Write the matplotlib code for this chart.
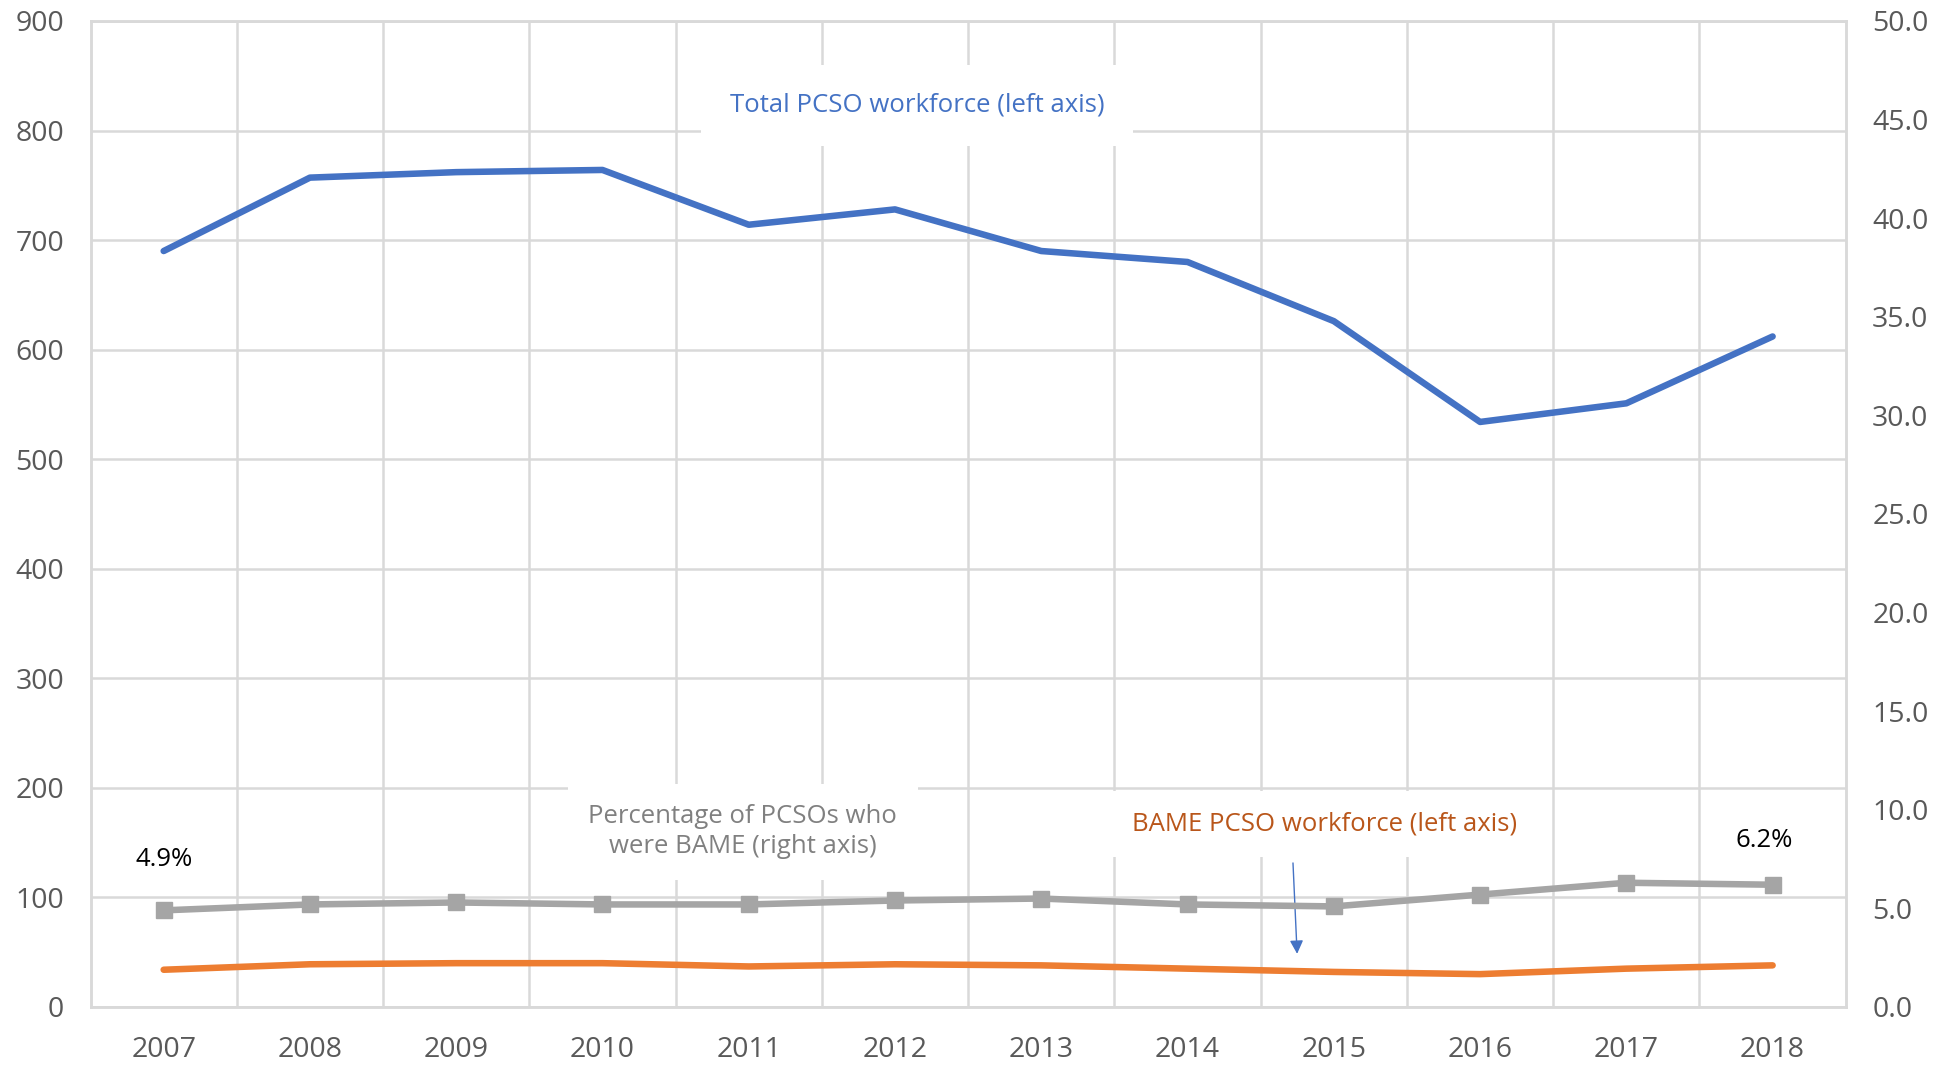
import matplotlib
matplotlib.use("Agg")
import matplotlib.pyplot as plt
import numpy as np

plt.rcParams['font.family'] = ['Open Sans', 'DejaVu Sans']

# PCSO workforce by year
years = ['2007', '2008', '2009', '2010', '2011', '2012',
         '2013', '2014', '2015', '2016', '2017', '2018']
total_pcso = [690, 757, 762, 764, 714, 728, 690, 680, 626, 534, 551, 612]
bame_pcso = [34, 39, 40, 40, 37, 39, 38, 35, 32, 30, 35, 38]
bame_pct = [4.9, 5.2, 5.3, 5.2, 5.2, 5.4, 5.5, 5.2, 5.1, 5.7, 6.3, 6.2]

blue = '#4472C4'
orange = '#ED7D31'
grey = '#A5A5A5'
grid_col = '#D9D9D9'
tick_col = '#595959'

fig = plt.figure(figsize=(19.47, 10.8), dpi=100)
ax = fig.add_axes([0.0465, 0.0676, 0.9015, 0.913])
ax2 = ax.twinx()

x = np.arange(len(years))

ax.plot(x, total_pcso, color=blue, lw=4.7, solid_capstyle='round', zorder=3)
ax.plot(x, bame_pcso, color=orange, lw=4.7, solid_capstyle='round', zorder=3)
ax2.plot(x, bame_pct, color=grey, lw=4.7, marker='s', markersize=11, zorder=3)

ax.set_xlim(-0.5, len(years) - 0.5)
ax.set_ylim(0, 900)
ax.set_yticks(np.arange(0, 901, 100))
ax2.set_ylim(0, 50)
ax2.set_yticks(np.arange(0, 50.1, 5))
ax2.set_yticklabels([f'{v:.1f}' for v in np.arange(0, 50.1, 5)])

ax.set_xticks(x)
ax.set_xticklabels(years)
# vertical grid sits between the categories
ax.set_xticks(np.arange(0.5, len(years) - 0.5), minor=True)
ax.grid(axis='y', which='major', color=grid_col, lw=1.8, zorder=0)
ax.grid(axis='x', which='minor', color=grid_col, lw=1.8, zorder=0)
ax.set_axisbelow(True)

for a in (ax, ax2):
    for s in a.spines.values():
        s.set_color(grid_col)
        s.set_linewidth(1.8)
    a.tick_params(which='both', length=0, labelsize=20.5, colors=tick_col)
ax.tick_params(axis='x', pad=21)
ax.tick_params(axis='y', pad=19)
ax2.tick_params(axis='y', pad=19)

# series labels
ax.text(5.15, 823, 'Total PCSO workforce (left axis)', color=blue,
        fontsize=18.5, ha='center', va='center', zorder=2,
        bbox=dict(boxstyle='square,pad=1.1', fc='white', ec='none'))
ax.text(3.96, 160, 'Percentage of PCSOs who\nwere BAME (right axis)', color='#808080',
        fontsize=18.5, ha='center', va='center', linespacing=1.25, zorder=2,
        bbox=dict(boxstyle='square,pad=0.8', fc='white', ec='none'))
ax.text(7.94, 167, 'BAME PCSO workforce (left axis)', color='#B9561A',
        fontsize=18.5, ha='center', va='center', zorder=2,
        bbox=dict(boxstyle='square,pad=0.8', fc='white', ec='none'))
ax.annotate('', xy=(7.75, 46), xytext=(7.72, 134),
            arrowprops=dict(arrowstyle='-|>', color=blue, lw=1.0,
                            mutation_scale=20), zorder=4)

ax.text(0, 135, f'{bame_pct[0]}%', fontsize=18.5, ha='center', va='center', color='black')
ax.text(10.94, 152, f'{bame_pct[-1]}%', fontsize=18.5, ha='center', va='center', color='black')

fig.savefig('out.png', dpi=100, facecolor='white')
